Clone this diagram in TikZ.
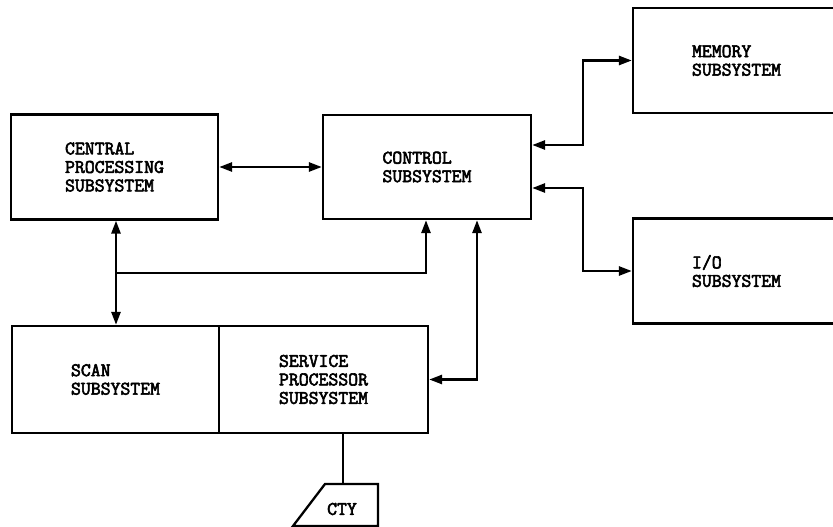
\documentclass[tikz,border=0pt]{standalone}
\usepackage{fontspec}
\newfontfamily\boxfont{Latin Modern Mono}[FakeBold=3]
\usetikzlibrary{arrows.meta}
\begin{document}
\begin{tikzpicture}[x=1pt,y=-1pt,
  box/.style={draw,line width=2.3pt,inner sep=0pt,align=left,
    font=\boxfont\fontsize{19.2}{18.5}\selectfont},
  lbl/.style={inner sep=0pt,align=left,font=\boxfont\fontsize{19.2}{18.5}\selectfont},
  conn/.style={line width=2.6pt},
  tip/.style={-{Triangle[length=13pt,width=9pt]}},
  tips/.style={{Triangle[length=13pt,width=9pt]}-{Triangle[length=13pt,width=9pt]}}]
\useasboundingbox (0,0) rectangle (833,527);
\clip (0,0) rectangle (833,527);
% boxes
\node[box,minimum width=207pt,minimum height=105pt] (cpu) at (114.5,167) {CENTRAL\\PROCESSING\\SUBSYSTEM};
\node[box,minimum width=208pt,minimum height=104pt] (ctrl) at (427,167) {CONTROL\\SUBSYSTEM};
\node[box,minimum width=207pt,minimum height=105pt] (mem) at (736.5,60.5) {MEMORY\\SUBSYSTEM};
\node[box,minimum width=207pt,minimum height=105pt] (io) at (736.5,271) {I/O\\SUBSYSTEM};
\node[box,minimum width=207pt,minimum height=107pt] (scan) at (115.5,379.5) {SCAN\\SUBSYSTEM};
\node[box,minimum width=209pt,minimum height=107pt] (sp) at (323.5,379.5) {SERVICE\\PROCESSOR\\SUBSYSTEM};
% CTY terminal
\coordinate (ctytl) at (325,484);
\coordinate (ctytr) at (378,484);
\coordinate (ctybr) at (378,526);
\coordinate (ctybl) at (293,526);
\draw[line width=2.3pt] (ctytl) -- (ctytr) -- (ctybr) -- (ctybl) -- cycle;
\node[lbl] (cty) at (342,509) {CTY};
\coordinate (ctytop) at (343,484);
% junctions
\coordinate (jm) at (583,145);
\coordinate (ji) at (583,188);
\coordinate (bus) at (116,273);
\coordinate (cb) at (426,273);
\coordinate (sc) at (477,379.5);
% connectors
\draw[conn,tips] (cpu.east) -- (ctrl.west);
\draw[conn,tips] (ctrl.east |- jm) -- (jm) |- (mem.west);
\draw[conn,tips] (ctrl.east |- ji) -- (ji) |- (io.west);
\draw[conn,tips] (cpu.south -| bus) -- (scan.north -| bus);
\draw[conn,tip] (bus) -- (cb) -- (ctrl.south -| cb);
\draw[conn,tips] (sp.east |- sc) -- (sc) -- (ctrl.south -| sc);
\draw[conn] (sp.south -| ctytop) -- (ctytop);
\end{tikzpicture}
\end{document}
